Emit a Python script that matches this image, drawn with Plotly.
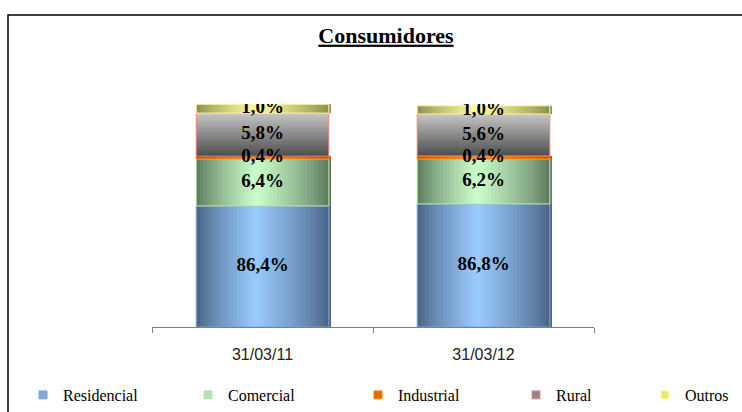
import plotly.graph_objects as go

# ---------------- data ----------------
categorias = ["31/03/11", "31/03/12"]
series = ["Residencial", "Comercial", "Industrial", "Rural", "Outros"]
participacao_11 = [86.4, 6.4, 0.4, 5.8, 1.0]   # % shown as labels
participacao_12 = [86.8, 6.2, 0.4, 5.6, 1.0]
# drawn segment heights (axis units 0-100)
altura_11 = [54.3, 21.1, 1.2, 19.3, 4.0]
altura_12 = [55.2, 20.2, 1.3, 18.8, 3.7]

# ---------------- style ----------------
edge = {"Residencial": (72, 96, 128), "Comercial": (90, 117, 90), "Industrial": (170, 85, 0),
        "Rural": (77, 77, 77), "Outros": (138, 138, 80)}
centre = {"Residencial": (153, 204, 255), "Comercial": (204, 255, 204), "Industrial": (255, 140, 20),
          "Rural": (195, 195, 195), "Outros": (255, 255, 153)}
border = {"Residencial": "#7fa6d6", "Comercial": "#b8e6b8", "Industrial": "#ff8000",
          "Rural": "#ff8080", "Outros": "#ffff99"}
legend_fill = {"Residencial": "#7ea9dd", "Comercial": "#b5e3b5", "Industrial": "#d96d00",
               "Rural": "#8a8a8a", "Outros": "#e8e87a"}
text_start = {"Residencial": 63, "Comercial": 228, "Industrial": 398, "Rural": 556, "Outros": 685}

W, H = 742, 412
L, R, T, B = 152, 148, 104, 85
BW = 0.6
N = 36


def mix(a, b, t):
    return "rgb(%d,%d,%d)" % tuple(round(a[k] + (b[k] - a[k]) * t) for k in range(3))


def profile(u, c=0.45):
    if u <= c:
        t = u / c
    else:
        t = (1 - u) / (1 - c)
    return t ** 0.8


fig = go.Figure()
alturas = [altura_11, altura_12]
for i, s in enumerate(series):
    h = [alturas[0][i], alturas[1][i]]
    base = [sum(alturas[0][:i]), sum(alturas[1][:i])]
    if s == "Rural":
        for k in range(N):
            t = k / (N - 1)
            fig.add_trace(go.Bar(
                x=categorias, y=[hh / N * 1.15 for hh in h],
                base=[b + hh * k / N for b, hh in zip(base, h)],
                width=BW, offset=-BW / 2,
                marker=dict(color=mix(edge[s], centre[s], t), line=dict(width=0)),
                showlegend=False, hoverinfo="skip"))
    else:
        sw = BW / N
        for k in range(N):
            u = (k + 0.5) / N
            fig.add_trace(go.Bar(
                x=categorias, y=h, base=base,
                width=sw * 1.6, offset=-BW / 2 + k * sw,
                marker=dict(color=mix(edge[s], centre[s], profile(u)), line=dict(width=0)),
                showlegend=False, hoverinfo="skip"))
    fig.add_trace(go.Bar(
        x=categorias, y=h, base=base, width=BW, offset=-BW / 2,
        marker=dict(color="rgba(0,0,0,0)", line=dict(color=border[s], width=1)),
        showlegend=False, hoverinfo="skip"))

partic = [participacao_11, participacao_12]
for i, s in enumerate(series):
    ys = [sum(alturas[c][:i]) + alturas[c][i] / 2 for c in range(2)]
    txt = [("%.1f%%" % partic[c][i]).replace(".", ",") for c in range(2)]
    fig.add_trace(go.Scatter(
        x=categorias, y=ys, mode="text", text=txt,
        textfont=dict(family="Liberation Serif", size=19, color="black", weight="bold"),
        showlegend=False, hoverinfo="skip"))

legend_layout = {}
for i, s in enumerate(series):
    lname = "legend" if i == 0 else "legend%d" % (i + 1)
    fig.add_trace(go.Scatter(
        x=[None], y=[None], mode="markers", name=s, legend=lname,
        marker=dict(symbol="square", size=8, color=legend_fill[s],
                    line=dict(color=border[s], width=1))))
    legend_layout[lname] = dict(
        x=(text_start[s] - 40) / W, xref="container", xanchor="left",
        y=1 - 395 / H, yref="container", yanchor="middle",
        orientation="h", bgcolor="rgba(0,0,0,0)", borderwidth=0,
        font=dict(family="Liberation Serif", size=16, color="black"))

fig.update_layout(
    width=W, height=H, barmode="overlay",
    margin=dict(l=L, r=R, t=T, b=B),
    paper_bgcolor="white", plot_bgcolor="white",
    title=dict(text="Consumidores", x=386 / W, xref="container", xanchor="center",
               y=1 - 35 / H, yref="container", yanchor="middle",
               font=dict(family="Liberation Serif", size=22, color="black",
                         weight="bold", lineposition="under")),
    xaxis=dict(type="category", range=[-0.5, 1.5], showline=True, linecolor="#808080",
               linewidth=1, ticks="outside", tickson="boundaries", ticklen=5,
               tickcolor="#808080", showgrid=False, zeroline=False,
               tickfont=dict(family="Liberation Sans", size=16, color="#222"),
               ticklabelstandoff=13, fixedrange=True),
    yaxis=dict(range=[0, 100], visible=False, fixedrange=True),
    shapes=[dict(type="rect", xref="paper", yref="paper",
                 x0=(8 - L) / (W - L - R), x1=(800 - L) / (W - L - R),
                 y0=(H - B - 450) / (H - T - B), y1=(H - B - 15) / (H - T - B),
                 line=dict(color="black", width=1.5), fillcolor="rgba(0,0,0,0)", layer="above")],
    **legend_layout,
)

fig.write_html("out.html", config={"displayModeBar": False},
               post_script="document.body.style.margin='0';")
